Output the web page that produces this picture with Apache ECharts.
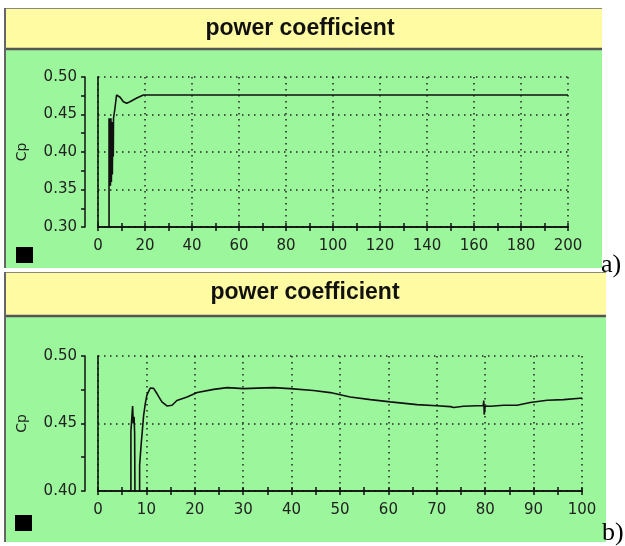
<!DOCTYPE html>
<html>
<head>
<meta charset="utf-8">
<script src="https://cdn.jsdelivr.net/npm/echarts@6/dist/echarts.min.js"></script>
<style>
    html, body { margin: 0; padding: 0; background: #fff; }
    #chart { width: 625px; height: 546px; }
</style>
</head>
<body>
<div id="chart"></div>
<script>
// 图 a) 数据: 时间 (s) / 功率系数 Cp
const timeA = [0, 0, 4.7, 4.7, 4.9, 5.1, 5.3, 5.5, 5.7, 5.9, 6.1, 6.3, 6.5, 6.6, 7.2, 7.9, 8.6, 9.4, 10.8, 12.2, 13.6, 16.5, 19.3, 40, 200];
const cpA = [0.55, 0.25, 0.25, 0.445, 0.36, 0.445, 0.355, 0.445, 0.36, 0.44, 0.37, 0.44, 0.394, 0.445, 0.458, 0.476, 0.476, 0.473, 0.467, 0.465, 0.467, 0.472, 0.476, 0.476, 0.476];

// 图 b) 数据
const timeB = [0, 0, 6.8, 6.8, 7.0, 7.15, 7.3, 7.45, 7.57, 7.7, 8.6, 8.6, 8.95, 9.43, 9.77, 10.1, 10.8, 11.5, 12.2, 13.2, 14.25, 15.3, 16.3, 18.4, 20.5, 23.9, 26.7, 30.1, 32.9, 36.3, 39.7, 44.5, 48.0, 52.1, 56.3, 60.4, 65.9, 70.0, 72.8, 73.5, 75.5, 78.3, 79.6, 79.7, 79.8, 80.0, 81.1, 83.8, 86.6, 89.3, 92.8, 96.2, 99.6, 100];
const cpB = [0.55, 0.35, 0.35, 0.444, 0.444, 0.463, 0.45, 0.455, 0.443, 0.35, 0.35, 0.419, 0.436, 0.456, 0.4647, 0.471, 0.4763, 0.476, 0.472, 0.466, 0.463, 0.4635, 0.467, 0.4696, 0.4729, 0.4753, 0.4766, 0.4758, 0.4762, 0.4766, 0.4758, 0.4744, 0.4729, 0.4696, 0.4677, 0.466, 0.464, 0.4632, 0.4625, 0.4618, 0.4628, 0.4632, 0.4632, 0.467, 0.4566, 0.463, 0.4628, 0.4635, 0.4635, 0.4655, 0.4672, 0.4677, 0.4687, 0.4688];

// 坐标轴范围 [min, max, interval]
const xRangeA = [0, 200, 20];
const yRangeA = [0.30, 0.50, 0.05];
const xRangeB = [0, 100, 10];
const yRangeB = [0.40, 0.50, 0.05];

const titleText = 'power coefficient';
const GREEN = '#9cf69c';
const YELLOW = '#fffba2';
const INK = '#111';
const labelFont = { fontFamily: 'DejaVu Sans', fontSize: 15, color: '#222' };
const dotted = { color: '#222', width: 1.5, type: [1.5, 4.5] };

let chart;

// x轴: 一条带外侧刻度和标签, 一条带内侧刻度 (叠成十字刻度)
function xAxisPair(gridIndex, range, inner) {
    return {
        gridIndex: gridIndex,
        type: 'value',
        position: 'bottom',
        min: range[0],
        max: range[1],
        interval: range[2],
        axisLine: { show: true, onZero: false, lineStyle: { color: INK, width: 1.5 } },
        axisTick: { show: true, inside: inner, length: 4, lineStyle: { color: INK, width: 1.5 } },
        minorTick: { show: true, splitNumber: 2, length: 4, lineStyle: { color: INK, width: 1.5 } },
        axisLabel: inner ? { show: false } : Object.assign({ margin: 12 }, labelFont),
        splitLine: inner ? { show: false } : { show: true, lineStyle: dotted }
    };
}

function yAxisFor(gridIndex, range, nameGap) {
    return {
        gridIndex: gridIndex,
        type: 'value',
        position: 'left',
        offset: 13,
        min: range[0],
        max: range[1],
        interval: range[2],
        name: 'Cp',
        nameLocation: 'middle',
        nameRotate: 90,
        nameGap: nameGap,
        nameTextStyle: { fontFamily: 'DejaVu Sans', fontSize: 14, color: '#222' },
        axisLine: { show: true, onZero: false, lineStyle: { color: INK, width: 1.5 } },
        axisTick: { show: true, length: 4, lineStyle: { color: INK, width: 1.5 } },
        minorTick: { show: true, splitNumber: 2, length: 4, lineStyle: { color: INK, width: 1.5 } },
        axisLabel: Object.assign({ margin: 8, formatter: v => v.toFixed(2) }, labelFont),
        splitLine: { show: true, lineStyle: dotted }
    };
}

// 面板背景: 绿色绘图区 + 黄色标题栏
function panelGraphics(x, y, w, h, headH) {
    return [
        { type: 'rect', z: -10, silent: true, shape: { x: x, y: y, width: w, height: h }, style: { fill: GREEN } },
        { type: 'rect', z: -9, silent: true, shape: { x: x, y: y, width: w, height: headH }, style: { fill: YELLOW } },
        { type: 'line', z: -8, silent: true, shape: { x1: x, y1: y + 0.5, x2: x + w, y2: y + 0.5 }, style: { stroke: '#8a8a7a', lineWidth: 1 } },
        { type: 'line', z: -8, silent: true, shape: { x1: x, y1: y + headH, x2: x + w, y2: y + headH }, style: { stroke: '#555', lineWidth: 2.5 } },
        { type: 'line', z: -8, silent: true, shape: { x1: x + 1, y1: y, x2: x + 1, y2: y + h }, style: { stroke: '#666', lineWidth: 2 } }
    ];
}

function headTitle(text, center, top) {
    return {
        text: text, left: center, top: top, textAlign: 'center', padding: 0,
        textStyle: { fontFamily: 'Liberation Sans', fontSize: 23, fontWeight: 'bold', color: INK }
    };
}

function tagTitle(text, left, top) {
    return {
        text: text, left: left, top: top, padding: 0,
        textStyle: { fontFamily: 'Liberation Serif', fontSize: 26, fontWeight: 'normal', color: '#000' }
    };
}

function legendFor(name, left, top) {
    return {
        data: [name], left: left, top: top, padding: 0,
        icon: 'rect', itemWidth: 17, itemHeight: 16,
        formatter: function() { return ''; },
        selectedMode: false
    };
}

function lineSeries(name, xi, yi, xs, ys) {
    return {
        type: 'line',
        name: name,
        xAxisIndex: xi,
        yAxisIndex: yi,
        data: xs.map((t, i) => [t, ys[i]]),
        showSymbol: false,
        symbol: 'none',
        clip: true,
        color: '#000',
        lineStyle: { color: INK, width: 1.6 }
    };
}

function init() {
    chart = echarts.init(document.getElementById('chart'));

    const option = {
        animation: false,
        backgroundColor: '#fff',
        graphic: panelGraphics(4, 8, 598, 260, 41).concat(panelGraphics(4, 272, 602, 270, 44)),
        title: [
            headTitle(titleText, 300, 17),
            headTitle(titleText, 305, 281),
            tagTitle('a)', 601, 252),
            tagTitle('b)', 602, 520)
        ],
        legend: [
            legendFor('Cp (a)', 16, 247),
            legendFor('Cp (b)', 15, 515)
        ],
        grid: [
            { left: 98, top: 77, width: 470, height: 150 },
            { left: 98, top: 356, width: 484, height: 135 }
        ],
        xAxis: [
            xAxisPair(0, xRangeA, false),
            xAxisPair(0, xRangeA, true),
            xAxisPair(1, xRangeB, false),
            xAxisPair(1, xRangeB, true)
        ],
        yAxis: [
            yAxisFor(0, yRangeA, 56),
            yAxisFor(1, yRangeB, 56)
        ],
        series: [
            lineSeries('Cp (a)', 0, 0, timeA, cpA),
            lineSeries('Cp (b)', 2, 1, timeB, cpB)
        ]
    };

    chart.setOption(option);
}

window.addEventListener('DOMContentLoaded', init);
</script>
</body>
</html>
